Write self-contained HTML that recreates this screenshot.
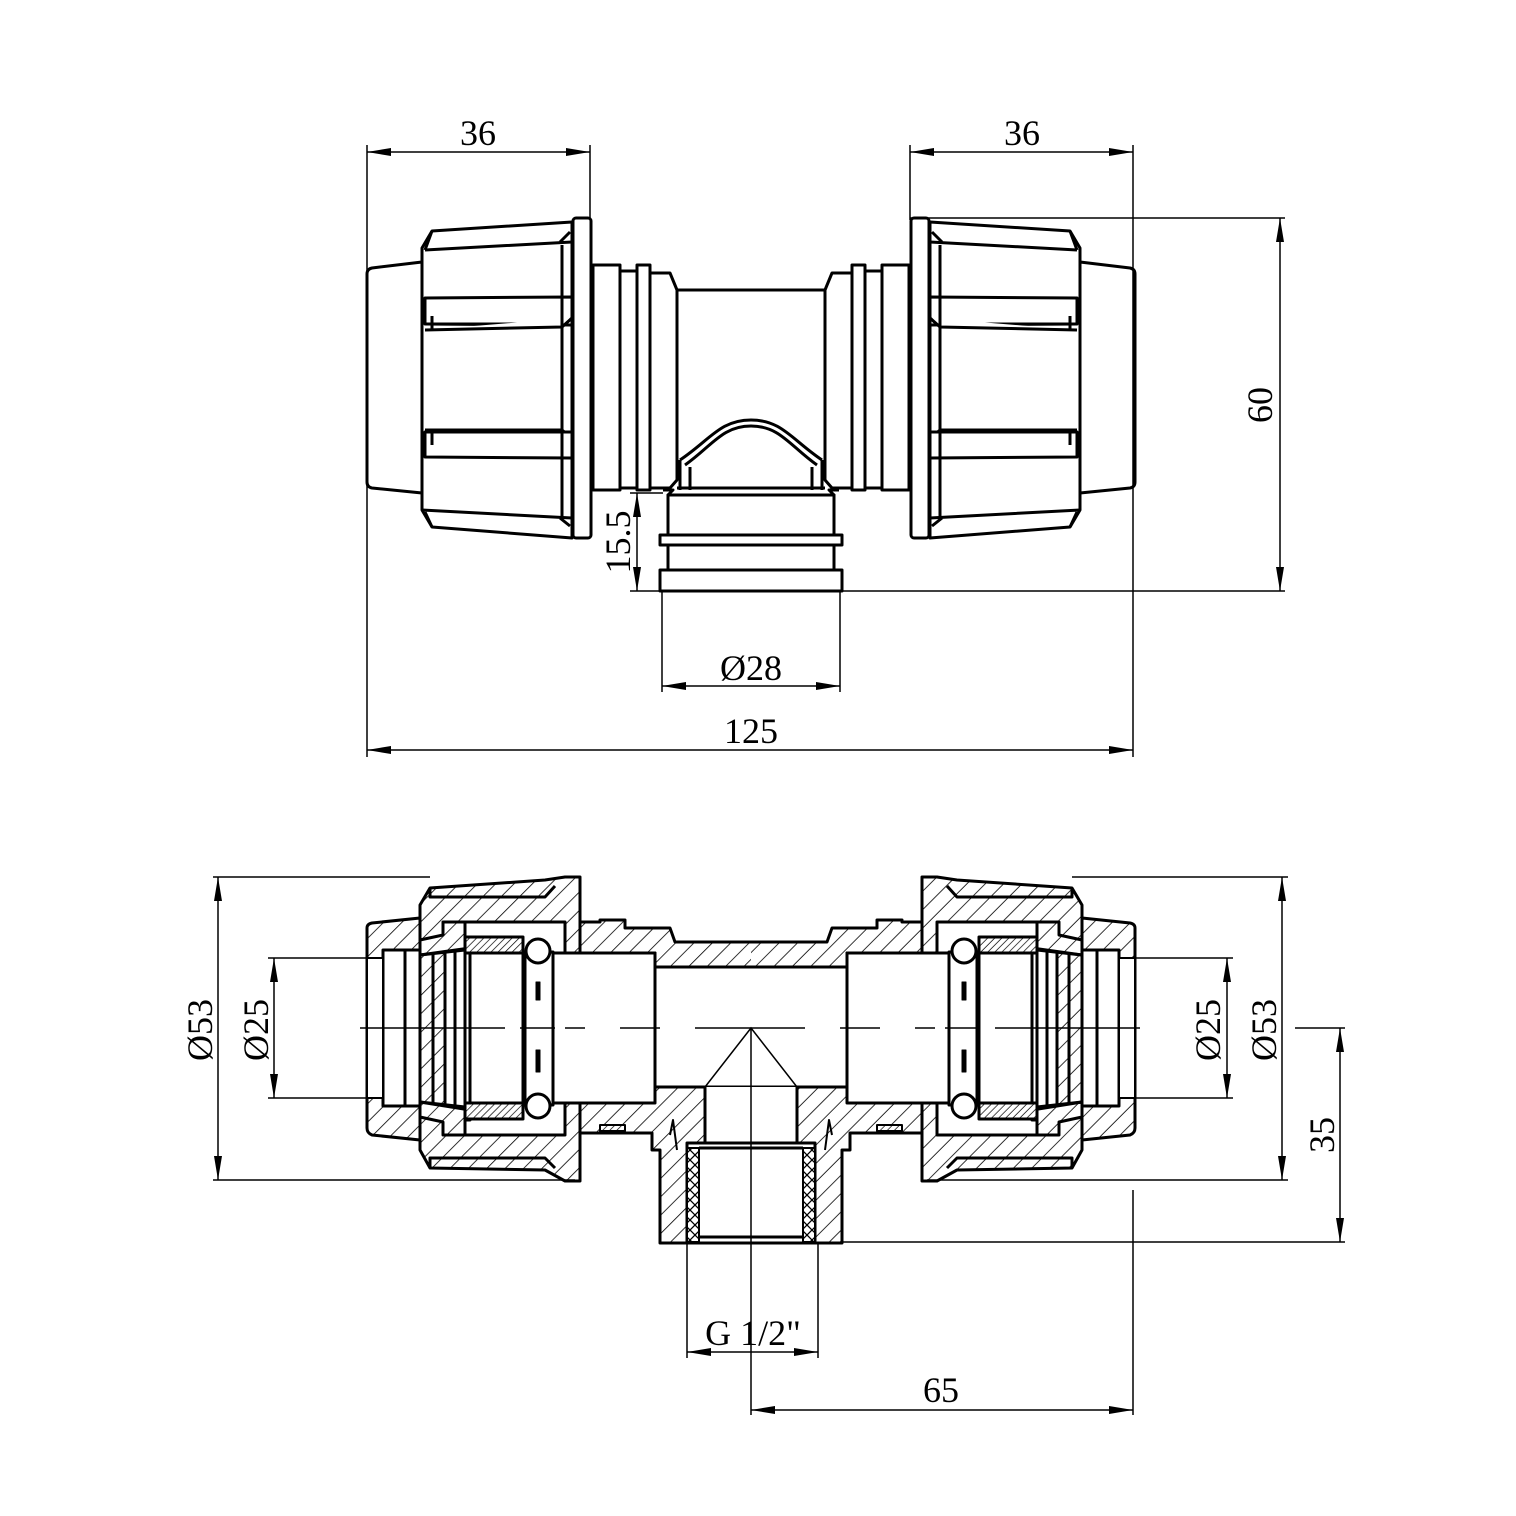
<!DOCTYPE html>
<html><head><meta charset="utf-8"><style>
html,body{margin:0;padding:0;background:#fff;}
svg{display:block;}
text{font-family:"Liberation Serif",serif;font-size:36px;fill:#000;}
.ht{fill:var(--h);}
.hdt{fill:var(--hd);}
</style></head><body>
<svg width="1516" height="1516" viewBox="0 0 1516 1516" xmlns="http://www.w3.org/2000/svg">
<defs>
<pattern id="h" width="13" height="13" patternUnits="userSpaceOnUse" patternTransform="rotate(-45)">
<rect width="13" height="13" fill="#fff"/><line x1="0" y1="0" x2="0" y2="13" stroke="#000" stroke-width="1.6"/></pattern>
<pattern id="h2" width="13" height="13" patternUnits="userSpaceOnUse" patternTransform="rotate(45)">
<rect width="13" height="13" fill="#fff"/><line x1="0" y1="0" x2="0" y2="13" stroke="#000" stroke-width="1.6"/></pattern>
<pattern id="hd" width="5" height="5" patternUnits="userSpaceOnUse" patternTransform="rotate(-45)">
<rect width="5" height="5" fill="#fff"/><line x1="0" y1="0" x2="0" y2="5" stroke="#000" stroke-width="1.4"/></pattern>
<pattern id="hd2" width="5" height="5" patternUnits="userSpaceOnUse" patternTransform="rotate(45)">
<rect width="5" height="5" fill="#fff"/><line x1="0" y1="0" x2="0" y2="5" stroke="#000" stroke-width="1.4"/></pattern>
<pattern id="hx" width="10" height="10" patternUnits="userSpaceOnUse">
<rect width="10" height="10" fill="#fff"/><path d="M0 0L10 10M10 0L0 10" stroke="#000" stroke-width="1.3"/></pattern>
<marker id="a" viewBox="0 0 24 8" refX="24" refY="4" markerWidth="24" markerHeight="8" markerUnits="userSpaceOnUse" orient="auto-start-reverse">
<path d="M0 0L24 4L0 8Z" fill="#000"/></marker>

<g id="topHalf" fill="#fff" stroke="#000" stroke-width="3" stroke-linejoin="round">
  <path d="M372 268 L422 262 L422 493 L372 488 Q367 487 367 482 L367 274 Q367 269 372 268Z"/>
  <path d="M432 231 L572 222 L572 538 L432 527 L422 510 L422 248Z"/>
  <path d="M425 250 L572 242 M422 510 L572 518"/>
  <path d="M432 231 L425 250 M570 232 L560 242 M432 527 L425 512 M570 526 L560 518" />
  <path d="M425 298 L572 297 L572 325 L425 324Z"/>
  <path d="M432 316 L432 324 M425 324 L565 324 M565 324 L572 318"/>
  <path d="M425 330 L562 327 L572 318 M425 430 L562 430 L572 438"/>
  <path d="M425 457 L572 458 L572 432 L425 432Z"/>
  <path d="M562 245 L562 518 M432 316 L432 330 M432 430 L432 445"/>
  <rect x="573" y="218" width="18" height="320" rx="3"/>
  <rect x="593" y="265" width="27" height="225"/>
  <rect x="620" y="271" width="17" height="217"/>
  <rect x="637" y="265" width="13" height="225"/>
  <path d="M650 273 L670 273 L677 290 L677 480 L670 488 L650 488Z"/>
  <path d="M677 290 L751 290 M751 488 L677 488"/>
  <path d="M680 460 C710 440 720 420 751 420" fill="none"/>
  <path d="M685 465 C712 446 722 426 751 426" fill="none"/>
  <path d="M680 460 L680 490 M690 467 L690 490" fill="none"/>
  <path d="M663 490 L673 490 L668 495 L751 495" fill="none"/>
  <path d="M751 495 H668 V535 H751"/>
  <path d="M751 535 H660 V545 H751"/>
  <path d="M751 545 H668 V570 H751"/>
  <path d="M751 570 H660 V591 H751"/>
</g>

<g id="secHalf" stroke="#000" stroke-width="3" stroke-linejoin="round">
  <path class="ht" d="M372 923 L420 918 L420 1140 L372 1135 Q367 1133 367 1128 L367 928 Q367 924 372 923Z"/>
  <rect x="383" y="950" width="37" height="156" fill="#fff"/>
  <rect x="367" y="958" width="16" height="140" fill="#fff" stroke-width="2"/>
  <path class="ht" d="M430 888 L545 880 L565 877 L580 877 L580 1181 L565 1181 L545 1170 L430 1168 L420 1150 L420 905Z"/>
  <path d="M430 888 L430 897 L545 897 L555 886 M430 1168 L430 1158 L545 1158 L555 1168" fill="none"/>
  <rect x="445" y="922" width="120" height="213" fill="#fff"/>
  <path class="ht" d="M443 922 L465 922 L465 937 L470 937 L470 948 L420 955 L420 940 L443 935Z"/>
  <path class="ht" d="M443 1135 L465 1135 L465 1120 L470 1120 L470 1110 L420 1102 L420 1117 L443 1122Z"/>
  <rect class="hdt" x="465" y="937" width="58" height="16"/>
  <rect class="hdt" x="465" y="1103" width="58" height="16"/>
  <path d="M420 955 L465 950 M420 1102 L465 1107" fill="none"/>
  <path d="M405 950 L405 1106 M420 955 L420 1102 M433 953 L433 1104 M445 952 L445 1105 M455 951 L455 1106 M465 950 L465 1107 M470 953 L470 1104" fill="none"/>
  <rect x="470" y="953" width="53" height="150" fill="#fff"/>
  <rect x="525" y="952" width="28" height="153" fill="#fff"/>
  <circle cx="538" cy="951" r="12" fill="#fff"/>
  <circle cx="538" cy="1106" r="12" fill="#fff"/>
  <rect x="536" y="982" width="4" height="18" fill="#000" stroke-width="1"/>
  <rect x="536" y="1050" width="4" height="22" fill="#000" stroke-width="1"/>
  <path class="ht" d="M751 967 L655 967 L655 953 L580 953 L580 922 L600 922 L600 920 L625 920 L625 928 L670 928 L675 942 L751 942"/>
  <rect x="553" y="953" width="102" height="150" fill="#fff"/>
  <path d="M655 967 L751 967 M751 1087 L655 1087 L655 967" fill="#fff"/>
  <path class="ht" d="M580 1103 L655 1103 L655 1087 L705 1087 L705 1143 L687 1143 L687 1243 L660 1243 L660 1150 L652 1150 L652 1133 L580 1133Z"/>
  <rect x="687" y="1148" width="12" height="94" fill="url(#hx)" stroke-width="2"/>
  <rect x="705" y="1087" width="46" height="56" fill="#fff" stroke="none"/>
  <path d="M705 1087 L705 1143 L751 1143 M699 1148 L751 1148 M699 1237 L751 1237 M687 1243 L751 1243" fill="none"/>
  <rect class="hdt" x="600" y="1125" width="25" height="6" stroke-width="2"/>
  <path d="M670 1135 L673 1120 L677 1150" fill="none" stroke-width="2"/>
</g>
</defs>

<use href="#topHalf"/>
<use href="#topHalf" transform="translate(1502,0) scale(-1,1)"/>

<g stroke="#000" stroke-width="1.5" fill="none">
  <path d="M367 145 V757 M590 145 V220 M910 145 V220 M1133 145 V757"/>
  <path d="M910 218 H1285 M840 591 H1285 M630 493 H663 M630 591 H663 M662 591 V692 M840 591 V692"/>
  <line x1="367" y1="152" x2="590" y2="152" marker-start="url(#a)" marker-end="url(#a)"/>
  <line x1="910" y1="152" x2="1133" y2="152" marker-start="url(#a)" marker-end="url(#a)"/>
  <line x1="1280" y1="218" x2="1280" y2="591" marker-start="url(#a)" marker-end="url(#a)"/>
  <line x1="637" y1="493" x2="637" y2="591" marker-start="url(#a)" marker-end="url(#a)"/>
  <line x1="662" y1="686" x2="840" y2="686" marker-start="url(#a)" marker-end="url(#a)"/>
  <line x1="367" y1="750" x2="1133" y2="750" marker-start="url(#a)" marker-end="url(#a)"/>
</g>
<text x="478" y="145" text-anchor="middle">36</text>
<text x="1022" y="145" text-anchor="middle">36</text>
<text x="751" y="680" text-anchor="middle">Ø28</text>
<text x="751" y="743" text-anchor="middle">125</text>
<text transform="translate(1272,405) rotate(-90)" text-anchor="middle">60</text>
<text transform="translate(630,542) rotate(-90)" text-anchor="middle">15.5</text>

<use href="#secHalf" style="--h:url(#h2);--hd:url(#hd2)"/>
<use href="#secHalf" transform="translate(1502,0) scale(-1,1)" style="--h:url(#h);--hd:url(#hd)"/>

<g stroke="#000" stroke-width="1.5" fill="none">
  <path d="M360 1028 H505 M520 1028 H555 M565 1028 H585 M620 1028 H660 M695 1028 H805 M840 1028 H880 M915 1028 H935 M945 1028 H980 M995 1028 H1140"/>
  <path d="M751 1028 V1415 M705 1087 L751 1028 L797 1087"/>
  <path d="M213 877 H430 M213 1180 H575 M268 958 H380 M268 1098 H380"/>
  <path d="M1072 877 H1288 M927 1180 H1288 M1122 958 H1233 M1122 1098 H1233"/>
  <path d="M1295 1028 H1345 M840 1242 H1345"/>
  <path d="M687 1242 V1358 M818 1242 V1358 M1133 1190 V1415"/>
  <line x1="218" y1="877" x2="218" y2="1180" marker-start="url(#a)" marker-end="url(#a)"/>
  <line x1="274" y1="958" x2="274" y2="1098" marker-start="url(#a)" marker-end="url(#a)"/>
  <line x1="1282" y1="877" x2="1282" y2="1180" marker-start="url(#a)" marker-end="url(#a)"/>
  <line x1="1227" y1="958" x2="1227" y2="1098" marker-start="url(#a)" marker-end="url(#a)"/>
  <line x1="1340" y1="1028" x2="1340" y2="1242" marker-start="url(#a)" marker-end="url(#a)"/>
  <line x1="687" y1="1352" x2="818" y2="1352" marker-start="url(#a)" marker-end="url(#a)"/>
  <line x1="751" y1="1410" x2="1133" y2="1410" marker-start="url(#a)" marker-end="url(#a)"/>
</g>
<text transform="translate(212,1030) rotate(-90)" text-anchor="middle">Ø53</text>
<text transform="translate(268,1030) rotate(-90)" text-anchor="middle">Ø25</text>
<text transform="translate(1220,1030) rotate(-90)" text-anchor="middle">Ø25</text>
<text transform="translate(1276,1030) rotate(-90)" text-anchor="middle">Ø53</text>
<text transform="translate(1334,1135) rotate(-90)" text-anchor="middle">35</text>
<text x="753" y="1345" text-anchor="middle">G 1/2"</text>
<text x="941" y="1402" text-anchor="middle">65</text>
</svg>
</body></html>
